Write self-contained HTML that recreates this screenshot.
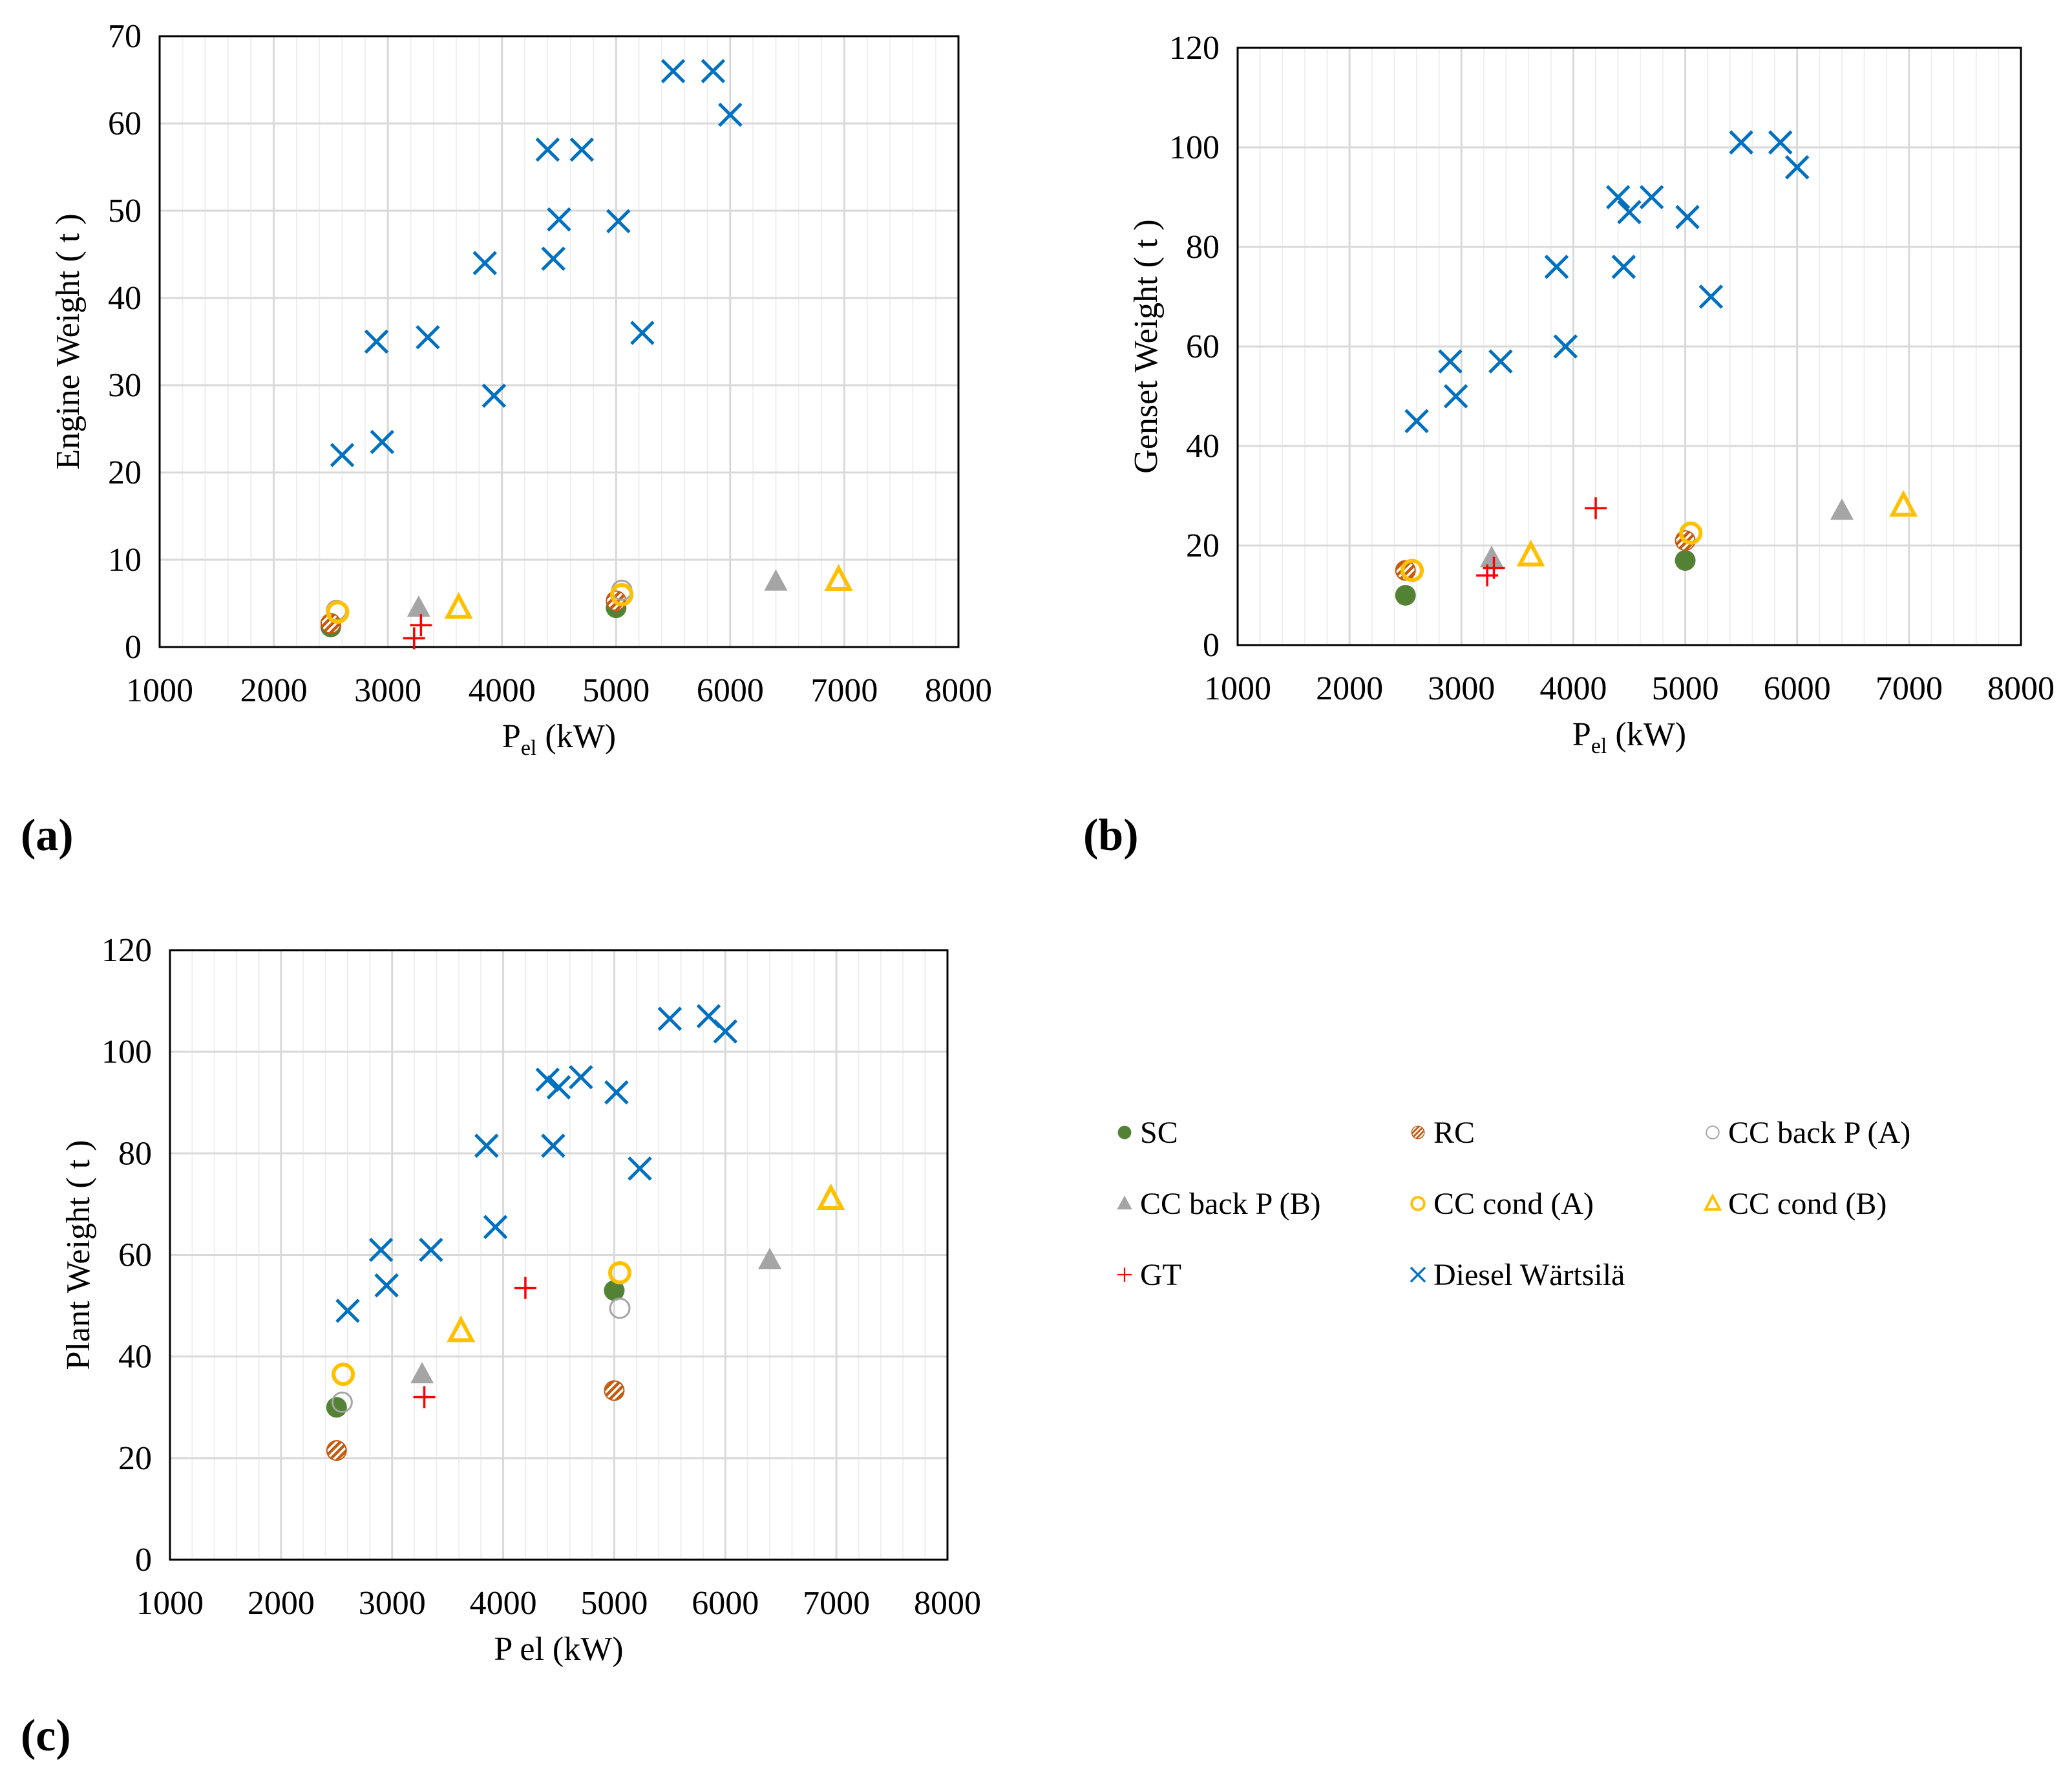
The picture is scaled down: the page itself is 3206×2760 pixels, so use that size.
<!DOCTYPE html>
<html><head><meta charset="utf-8">
<style>
html,body{margin:0;padding:0;background:#fff;}
svg{display:block;font-family:"Liberation Serif",serif;}
</style></head>
<body>
<svg id="fig" width="3206" height="2760" viewBox="0 0 3206 2760" xmlns="http://www.w3.org/2000/svg" font-family="Liberation Serif, serif">
<defs>
<pattern id="hatch" patternUnits="userSpaceOnUse" width="8" height="8" patternTransform="rotate(45)">
<rect width="8" height="8" fill="#c55a11"/><rect width="3.5" height="8" fill="#fff"/>
</pattern>
</defs>
</svg>
<script>
// ---- data ----
const dieselX = [2600,2900,2950,3350,3850,3930,4400,4450,4500,4700,5020,5230,5500,5850,6000];
const dieselA = [22,35,23.5,35.5,44,28.8,57,44.5,49,57,48.8,36,66,66,61];
const dieselB = [45,57,50,57,76,60,90,76,87,90,86,70,101,101,96];
const dieselC = [49,61,54,61,81.5,65.5,94.5,81.5,93,95,92,77,106.5,107,104];
const scX = [2500,5000];
const scA = [2.3,4.5]; const scB = [10,17]; const scC = [30,53];
const rcX = [2500,5000];
const rcA = [2.7,5.3]; const rcB = [15,21]; const rcC = [21.5,33.3];
const ccbpaX = [2550,5050];
const ccbpaA = [4.2,6.5]; const ccbpaB = [15,22.5]; const ccbpaC = [31,49.5];
const ccbpbX = [3270,6400];
const ccbpbA = [4.5,7.5]; const ccbpbB = [17.5,27]; const ccbpbC = [36.5,59];
const cccaX = [2560,5050];
const cccaA = [4,6]; const cccaB = [15,22.5]; const cccaC = [36.5,56.5];
const cccbX = [3620,6950];
const cccbA = [4.5,7.7]; const cccbB = [18,28]; const cccbC = [45,71];
const gtXA = [3230,3290]; const gtA = [1,2.5];
const gtXB = [3230,3290,4200]; const gtB = [14,15.5,27.5];
const gtXC = [3290,4200]; const gtC = [32,53.5];
const xTicks = [1000,2000,3000,4000,5000,6000,7000,8000];
const yTicksA = [0,10,20,30,40,50,60,70];
const yTicksBC = [0,20,40,60,80,100,120];

const NS="http://www.w3.org/2000/svg";
const svg=document.getElementById('fig');
function el(tag,attrs,parent){const e=document.createElementNS(NS,tag);for(const k in attrs)e.setAttribute(k,attrs[k]);(parent||svg).appendChild(e);return e;}

function marker(g,type,cx,cy){
  let m;
  if(type==='x'){m=el('path',{d:`M${cx-17},${cy-17}L${cx+17},${cy+17}M${cx-17},${cy+17}L${cx+17},${cy-17}`,stroke:'#0070c0','stroke-width':5,fill:'none'},g);}
  else if(type==='sc'){m=el('circle',{cx:cx,cy:cy,r:16,fill:'#548235'},g);}
  else if(type==='rc'){m=el('circle',{cx:cx,cy:cy,r:15,fill:'url(#hatch)',stroke:'#c55a11','stroke-width':2},g);}
  else if(type==='ccbpa'){m=el('circle',{cx:cx,cy:cy,r:15,fill:'none',stroke:'#a5a5a5','stroke-width':3},g);}
  else if(type==='ccbpb'){m=el('path',{d:`M${cx},${cy-19}L${cx+18},${cy+14}L${cx-18},${cy+14}Z`,fill:'#a5a5a5'},g);}
  else if(type==='ccca'){m=el('circle',{cx:cx,cy:cy,r:15,fill:'none',stroke:'#ffc000','stroke-width':6},g);}
  else if(type==='cccb'){m=el('path',{d:`M${cx},${cy-18}L${cx+17},${cy+14}L${cx-17},${cy+14}Z`,fill:'none',stroke:'#ffc000','stroke-width':6},g);}
  else if(type==='gt'){m=el('path',{d:`M${cx-17},${cy}L${cx+17},${cy}M${cx},${cy-17}L${cx},${cy+17}`,stroke:'#ff0000','stroke-width':3.5,fill:'none'},g);}
  return m;
}

function chart(id,L,T,R,B,ymax,yTicks,ylabel,xsub,series,panel,px,py){
  const g=el('g',{});
  
  
  const xs=v=>L+(v-1000)/7000*(R-L);
  const ys=v=>B-v/ymax*(B-T);
  for(let v=1200;v<8000;v+=200){ if(v%1000===0)continue;
    const l=el('line',{x1:xs(v),x2:xs(v),y1:T,y2:B,stroke:'#efefef','stroke-width':2},g);
     }
  xTicks.forEach(v=>{ if(v>1000&&v<8000){const l=el('line',{x1:xs(v),x2:xs(v),y1:T,y2:B,stroke:'#d9d9d9','stroke-width':3},g);
     }
    const t=el('text',{x:xs(v),y:B+84,'text-anchor':'middle','font-size':52},g); t.textContent=v;
     });
  yTicks.forEach(v=>{ if(v>0&&v<ymax){const l=el('line',{x1:L,x2:R,y1:ys(v),y2:ys(v),stroke:'#d9d9d9','stroke-width':3},g);
     }
    const t=el('text',{x:L-28,y:ys(v)+17,'text-anchor':'end','font-size':52},g); t.textContent=v;
     });
  const fr=el('rect',{x:L,y:T,width:R-L,height:B-T,fill:'none',stroke:'#000','stroke-width':3},g);
   
  series.forEach(s=>{ s.xs.forEach((xv,i)=>{const m=marker(g,s.type,xs(xv),ys(s.ys[i]));
     });});
  const xt=el('text',{x:(L+R)/2,y:B+155,'text-anchor':'middle','font-size':52},g);
   
  if(xsub){xt.innerHTML='P<tspan font-size="34" dy="12">el</tspan><tspan dy="-12"> (kW)</tspan>';}
  else xt.textContent='P el (kW)';
  const cy=(T+B)/2;
  const yt=el('text',{x:0,y:0,'text-anchor':'middle','font-size':52,transform:`translate(${L-125},${cy}) rotate(-90)`},g);
  yt.textContent=ylabel;
   
  const pl=el('text',{x:px,y:py,'font-size':70,'font-weight':'bold'},g); pl.textContent=panel;
   
}

chart('engine-weight-chart',247,56,1483,1001,70,yTicksA,'Engine Weight ( t )',true,[
 {type:'sc',name:'sc',xs:scX,ys:scA},{type:'rc',name:'rc',xs:rcX,ys:rcA},
 {type:'ccbpa',name:'cc-back-p-a',xs:ccbpaX,ys:ccbpaA},{type:'ccca',name:'cc-cond-a',xs:cccaX,ys:cccaA},
 {type:'ccbpb',name:'cc-back-p-b',xs:ccbpbX,ys:ccbpbA},{type:'cccb',name:'cc-cond-b',xs:cccbX,ys:cccbA},
 {type:'gt',name:'gt',xs:gtXA,ys:gtA},{type:'x',name:'diesel',xs:dieselX,ys:dieselA}],'(a)',32,1315);

chart('genset-weight-chart',1915,74,3127,998,120,yTicksBC,'Genset Weight ( t )',true,[
 {type:'sc',name:'sc',xs:scX,ys:scB},{type:'rc',name:'rc',xs:rcX,ys:rcB},
 {type:'ccbpa',name:'cc-back-p-a',xs:ccbpaX,ys:ccbpaB},{type:'ccca',name:'cc-cond-a',xs:cccaX,ys:cccaB},
 {type:'ccbpb',name:'cc-back-p-b',xs:ccbpbX,ys:ccbpbB},{type:'cccb',name:'cc-cond-b',xs:cccbX,ys:cccbB},
 {type:'gt',name:'gt',xs:gtXB,ys:gtB},{type:'x',name:'diesel',xs:dieselX,ys:dieselB}],'(b)',1676,1315);

chart('plant-weight-chart',263,1470,1466,2413,120,yTicksBC,'Plant Weight ( t )',false,[
 {type:'sc',name:'sc',xs:scX,ys:scC},{type:'ccbpa',name:'cc-back-p-a',xs:ccbpaX,ys:ccbpaC},
 {type:'rc',name:'rc',xs:rcX,ys:rcC},{type:'ccca',name:'cc-cond-a',xs:cccaX,ys:cccaC},
 {type:'ccbpb',name:'cc-back-p-b',xs:ccbpbX,ys:ccbpbC},{type:'cccb',name:'cc-cond-b',xs:cccbX,ys:cccbC},
 {type:'gt',name:'gt',xs:gtXC,ys:gtC},{type:'x',name:'diesel',xs:dieselX,ys:dieselC}],'(c)',32,2708);

const legNames=['SC','RC','CC back P (A)','CC back P (B)','CC cond (A)','CC cond (B)','GT','Diesel Wärtsilä'];
const legTypes=['sc','rc','ccbpa','ccbpb','ccca','cccb','gt','x'];
const lg=el('g',{});
 
const colX=[1740,2194,2650], rowY=[1752,1862,1972];
legNames.forEach((n,i)=>{
  const cx=colX[i%3], cy=rowY[Math.floor(i/3)];
  const eg=el('g',{},lg);
   
  const mg=el('g',{transform:`translate(${cx},${cy}) scale(0.65) translate(${-cx},${-cy})`},eg);
  marker(mg,legTypes[i],cx,cy);
  const t=el('text',{x:cx+24,y:cy+16,'font-size':48},eg); t.textContent=n;
});
</script>
</body></html>
